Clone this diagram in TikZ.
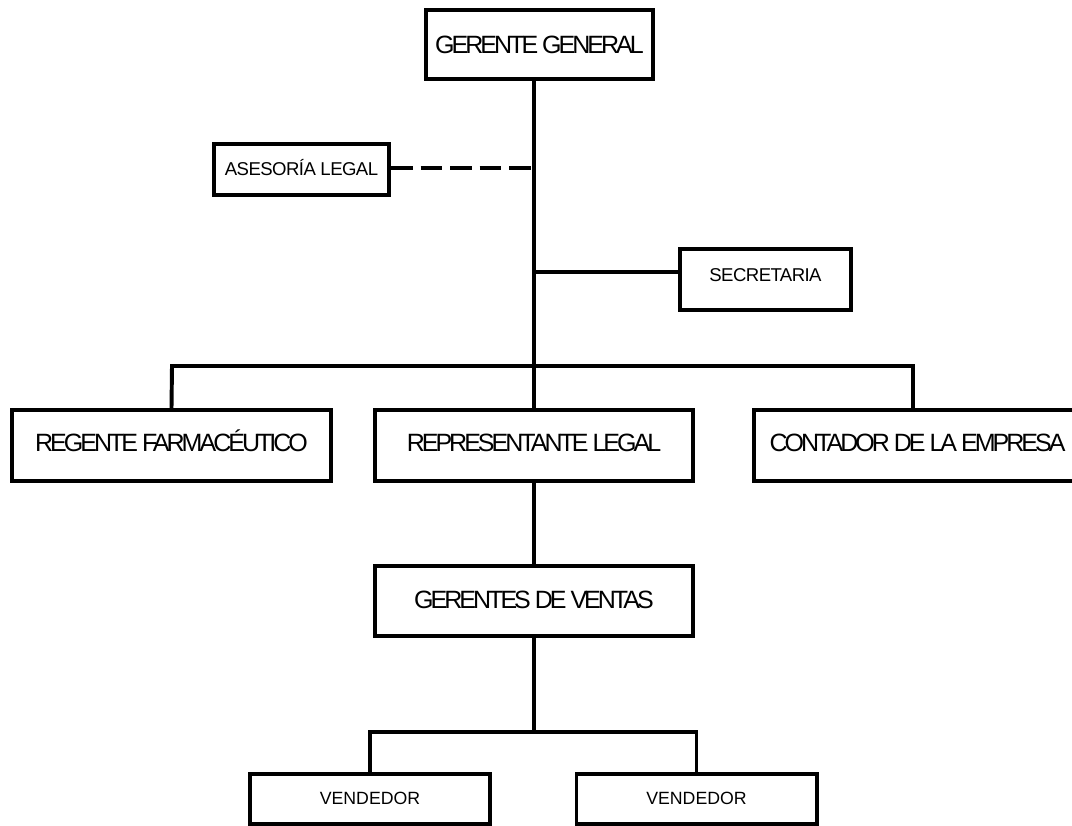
\documentclass[tikz,border=0pt]{standalone}
\usepackage{fontspec}
\setmainfont{Liberation Sans}
\newfontfamily\cargofont[LetterSpace=-12]{Liberation Sans}
\newfontfamily\apoyofont[LetterSpace=-3]{Liberation Sans}
\usetikzlibrary{positioning}
\tikzstyle{cargo} = [rectangle, draw=black, line width=2.8pt, minimum width=7.95cm, minimum height=1.775cm, inner sep=0pt, text height=0.45cm, text depth=0.15cm, text centered, font=\cargofont\fontsize{17.8}{20}\selectfont]
\tikzstyle{apoyo} = [rectangle, draw=black, line width=2.8pt, inner sep=0pt, text height=0.325cm, text depth=0.03cm, text centered, font=\apoyofont\fontsize{13.2}{15}\selectfont]
\tikzstyle{vendedor} = [rectangle, draw=black, line width=2.8pt, minimum width=6cm, minimum height=1.25cm, inner sep=0pt, text height=0.32cm, text depth=0.05cm, text centered, font=\fontsize{12.6}{15}\selectfont]
\tikzstyle{linea} = [line width=2.8pt]
\tikzstyle{punteada} = [line width=2.8pt, dash pattern=on 15.4pt off 5.6pt]

\begin{document}
\begin{tikzpicture}[x=0.025cm, y=-0.025cm]
    \path[use as bounding box, clip] (0,0) rectangle (1072,825);

    % Nodes
    \node (gerente) [cargo, minimum width=5.675cm, minimum height=1.725cm, text depth=0cm] at (539.5,44.5) {GERENTE GENERAL};
    \node (asesoria) [apoyo, minimum width=4.375cm, minimum height=1.275cm] at (301.5,169.5) {ASESORÍA LEGAL};
    \node (secretaria) [apoyo, minimum width=4.275cm, minimum height=1.525cm, text depth=0.22cm] at (765.5,279.5) {SECRETARIA};

    \node (regente) [cargo, minimum width=7.975cm] at (171.5,445.5) {REGENTE FARMACÉUTICO};
    \node (representante) [cargo] at (534,445.5) {REPRESENTANTE LEGAL};
    \node (contador) [cargo, minimum width=8.175cm] at (917.5,445.5) {CONTADOR DE LA EMPRESA};

    \node (ventas) [cargo, minimum height=1.75cm, text depth=0.1cm] at (534,601) {GERENTES DE VENTAS};

    \node (vendedor1) [vendedor] at (370,799) {VENDEDOR\hspace{0.4cm}};
    \node (vendedor2) [vendedor] at (696.5,799) {VENDEDOR\hspace{0.25cm}};

    % Branch points
    \coordinate (tronco) at (534,366);
    \coordinate (sec) at (534,272);
    \coordinate (ase) at (534,168);
    \coordinate (barraizq) at (172,366);
    \coordinate (barrader) at (913,366);
    \coordinate (barrabaja) at (534,732);
    \coordinate (vizq) at (370,732);
    \coordinate (vder) at (696.5,732);

    % Lines
    \draw [linea] (gerente.south -| tronco) -- (representante.north);
    \draw [punteada] (asesoria.east |- ase) -- (ase);
    \draw [linea] (sec) -- (sec -| secretaria.west);
    \draw [linea] (regente.north) -- (barraizq) -- (barrader) -- (barrader |- contador.north);
    \draw [linea] (representante) -- (ventas);
    \draw [linea] (ventas) -- (barrabaja);
    \draw [linea] (vendedor1.north) -- (vizq) -- (vder) -- (vendedor2.north);

\end{tikzpicture}
\end{document}
